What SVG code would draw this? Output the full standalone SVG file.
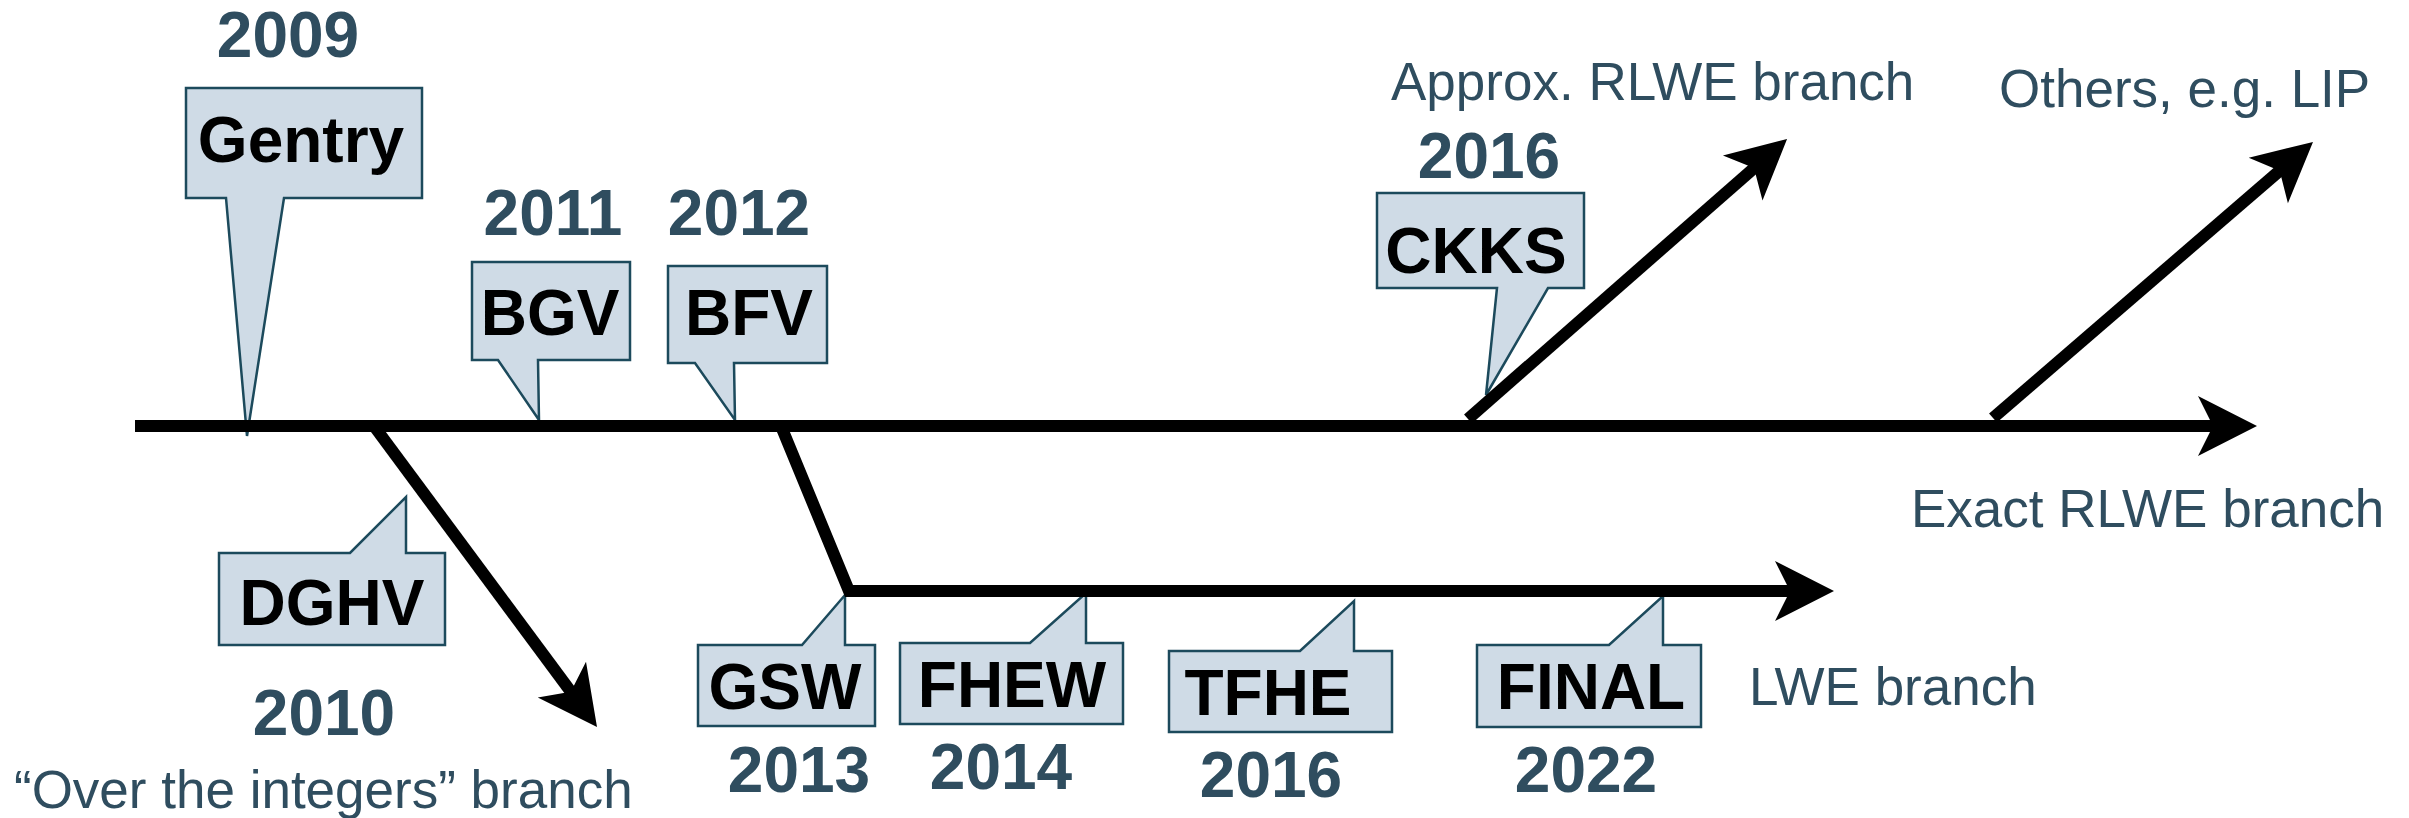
<svg xmlns="http://www.w3.org/2000/svg" width="2409" height="818" viewBox="0 0 2409 818">
  <style>
    .callout { fill: #cfdbe6; stroke: #1c4a5c; stroke-width: 2.5; stroke-linejoin: miter; }
    .name { font-family: "Liberation Sans", Arial, sans-serif; font-weight: bold; font-size: 64px; fill: #000; text-anchor: middle; }
    .year { font-family: "Liberation Sans", Arial, sans-serif; font-weight: bold; font-size: 64px; fill: #2f4d5f; text-anchor: middle; }
    .label { font-family: "Liberation Sans", Arial, sans-serif; font-size: 53px; fill: #2f4d5f; }
    .branch { fill: none; stroke: #000; stroke-width: 12; stroke-linecap: butt; stroke-linejoin: miter; }
  </style>
  <defs>
    <marker id="head" markerUnits="userSpaceOnUse" markerWidth="80" markerHeight="80" refX="0" refY="0" viewBox="-30 -40 80 80" orient="auto" overflow="visible">
      <path d="M40,0 L-19,-30 L-4,0 L-19,30 Z" fill="#000"/>
    </marker>
  </defs>

  <rect width="2409" height="818" fill="#fff"/>

  <!-- scheme callouts -->
  <g id="gentry">
    <path class="callout" d="M186,88 H422 V198 H284 L247,436 L226,198 H186 Z"/>
    <text class="name" x="301" y="162">Gentry</text>
    <text class="year" x="288" y="57">2009</text>
  </g>
  <g id="bgv">
    <path class="callout" d="M472,262 H630 V360 H538 L539,420 L498,360 H472 Z"/>
    <text class="name" x="550" y="335">BGV</text>
    <text class="year" x="553" y="235">2011</text>
  </g>
  <g id="bfv">
    <path class="callout" d="M668,266 H827 V363 H734 L735,420 L695,363 H668 Z"/>
    <text class="name" x="749" y="335">BFV</text>
    <text class="year" x="739" y="235">2012</text>
  </g>
  <g id="ckks">
    <path class="callout" d="M1377,193 H1584 V288 H1548 L1486,395 L1497,288 H1377 Z"/>
    <text class="name" x="1476" y="273">CKKS</text>
    <text class="year" x="1489" y="178">2016</text>
  </g>
  <g id="dghv">
    <path class="callout" d="M219,553 H350 L406,497 V553 H445 V645 H219 Z"/>
    <text class="name" x="332" y="625">DGHV</text>
    <text class="year" x="324" y="735">2010</text>
  </g>
  <g id="gsw">
    <path class="callout" d="M698,645 H802 L845,595 V645 H875 V726 H698 Z"/>
    <text class="name" x="785" y="709">GSW</text>
    <text class="year" x="799" y="792">2013</text>
  </g>
  <g id="fhew">
    <path class="callout" d="M900,643 H1030 L1086,593 V643 H1123 V724 H900 Z"/>
    <text class="name" x="1012" y="707">FHEW</text>
    <text class="year" x="1001" y="789">2014</text>
  </g>
  <g id="tfhe">
    <path class="callout" d="M1169,651 H1300 L1354,601 V651 H1392 V732 H1169 Z"/>
    <text class="name" x="1268" y="715">TFHE</text>
    <text class="year" x="1271" y="797">2016</text>
  </g>
  <g id="final">
    <path class="callout" d="M1477,645 H1609 L1663,596 V645 H1701 V727 H1477 Z"/>
    <text class="name" x="1591" y="709">FINAL</text>
    <text class="year" x="1586" y="792">2022</text>
  </g>

  <!-- branch captions -->
  <g id="captions">
    <text class="label" x="1391" y="100">Approx. RLWE branch</text>
    <text class="label" x="1999" y="107">Others, e.g. LIP</text>
    <text class="label" x="1911" y="527">Exact RLWE branch</text>
    <text class="label" x="1749" y="705">LWE branch</text>
    <text class="label" x="14" y="808">“Over the integers” branch</text>
  </g>

  <!-- timeline and branches -->
  <g id="connectors">
    <path class="branch" d="M135,426 H2217" marker-end="url(#head)"/>
    <path class="branch" d="M374,426 L573.2,694.9" marker-end="url(#head)"/>
    <path class="branch" d="M781,426 L849,591 H1794" marker-end="url(#head)"/>
    <path class="branch" d="M1468,419 L1757,165.4" marker-end="url(#head)"/>
    <path class="branch" d="M1993,418 L2282.7,168.1" marker-end="url(#head)"/>
  </g>
</svg>
